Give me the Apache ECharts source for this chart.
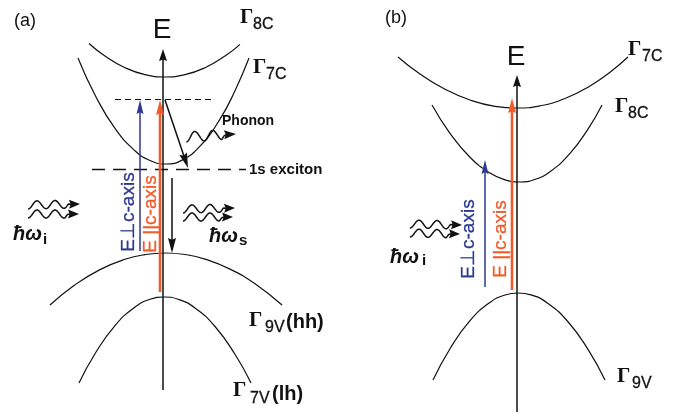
<!DOCTYPE html>
<html><head><meta charset="utf-8">
<script src="https://cdn.jsdelivr.net/npm/echarts@6/dist/echarts.min.js"></script>
<style>html,body{margin:0;padding:0;background:#fff}#c{width:675px;height:416px}</style>
</head><body><div id="c"></div><script>
// ---- data (diagram coordinates: x = k across page, y = energy, top = 0) ----
// panel (a) bands
const bandA_G8C = [[89,43.5],[105,56.1],[125,67.7],[145,74.7],[165,77],[185,74.7],[205,67.7],[225,56.1],[240,44.4]];
const bandA_G7C = [[78,58],[95,95],[115,128.4],[135,150.8],[150,160.5],[166,164],[182,160.1],[200,146.2],[220,119.1],[235,90.7],[249,58]];
const bandA_G9V = [[50,305],[75,284.8],[100,269.6],[125,259.3],[145,254.6],[165,253],[185,254.5],[205,259.1],[230,269.1],[255,283.8],[282,305]];
const bandA_G7V = [[79,383],[95,353.7],[115,325.6],[135,307],[150,299.3],[164,297],[178,299.2],[195,307.9],[215,326.5],[235,354.3],[251,383]];
// panel (b) bands
const bandB_G7C = [[398,57],[420,74.1],[445,89.3],[470,100],[495,106.3],[517,108],[540,105.8],[565,98.5],[590,85.9],[610,72.2],[628,57]];
const bandB_G8C = [[432,105],[450,133.3],[470,157.2],[490,173.1],[505,179.8],[520,182],[535,179.4],[550,171.7],[570,153.4],[588,129.1],[602,105]];
const bandB_G9V = [[433,380],[450,348.7],[470,320.7],[490,302.4],[505,295],[518,293],[531,294.9],[548,303.4],[568,321.75],[588,349.4],[605,380]];
// dashed levels (a)
const levelVirtual = [[115,99.5],[213,99.5]];
const levelExciton = [[92,169.5],[246,169.5]];
// arrows [x0,y0,x1(tip),y1(tip)]
const axisArrows = [[163,390,163,49],[517,412,517,75]];
const blackArrows = [[165,100,188,168],[172,178,172,253]];
const blueArrows = [[140,251,140,100],[485,287,485,160]];
const orangeArrows = [[160,292,160,100],[512,290,512,98]];
// photon / phonon waves [x0,y0,x1(tip),y1(tip)]
const photonWaves = [[28,205,80,204],[28,214,79,214],[183,209,235,208],[183,217,233,217],[410,224,462,225],[410,233,460,234]];
const phononWaves = [[186,137,236,134]];
// labels [text, x, y]
const panelLabels = [['(a)',14,21],['(b)',385,18]];
const axisLabels = [['E',162,30],['E',516,57]];
const gammaLabels = [['Γ',240,18],['Γ',253,68],['Γ',249,321],['Γ',233,391],['Γ',628,50],['Γ',615,107],['Γ',617,377]];
const subLabels = [['8C',253,25],['7C',266,75],['9V',265,328],['7V',250,399],['7C',642,57],['8C',628,114],['9V',632,384]];
const tagLabels = [['(hh)',286,322],['(lh)',272,394]];
const phononLabels = [['Phonon',222,121]];
const excitonLabels = [['1s exciton',249,170]];
const hwLabels = [['ħω',13,234],['ħω',209,236],['ħω',390,257]];
const hwSubLabels = [['i',43,240],['s',239,241],['i',422,261]];
const blueTexts = [['E⊥c-axis',129,212],['E⊥c-axis',469,239]];
const orangeTexts = [['E ||c-axis',151,214],['E ||c-axis',501,239]];

// ---- styles ----
const INK = '#111111', BLUE = '#2b3990', ORANGE = '#f15a29';
const SANS = '"Liberation Sans", Arial, sans-serif';
const SERIF = '"Liberation Serif", "Times New Roman", serif';

function band(data) {
  return { type: 'line', data: data, smooth: 0.5, showSymbol: false, silent: true,
    lineStyle: { color: INK, width: 1.2 }, z: 2 };
}
function dashed(data, dash, w) {
  return { type: 'line', data: data, showSymbol: false, silent: true,
    lineStyle: { color: INK, width: w, type: dash }, z: 2 };
}
function arrowSeries(data, color, lw, headW, headL) {
  return { type: 'custom', data: data, silent: true, z: 5,
    dimensions: ['x0','y0','x1','y1'], encode: { x: [0,2], y: [1,3] },
    renderItem: function (params, api) {
      const p0 = api.coord([api.value(0), api.value(1)]);
      const p1 = api.coord([api.value(2), api.value(3)]);
      const dx = p1[0]-p0[0], dy = p1[1]-p0[1], len = Math.hypot(dx, dy);
      const ux = dx/len, uy = dy/len, nx = -uy, ny = ux;
      const bx = p1[0]-ux*headL, by = p1[1]-uy*headL;
      return { type: 'group', children: [
        { type: 'line', shape: { x1: p0[0], y1: p0[1], x2: bx+ux*2, y2: by+uy*2 },
          style: { stroke: color, lineWidth: lw } },
        { type: 'polygon', shape: { points: [[p1[0],p1[1]],[bx+nx*headW/2, by+ny*headW/2],
            [bx+ux*headL*0.12, by+uy*headL*0.12],[bx-nx*headW/2, by-ny*headW/2]] },
          style: { fill: color } }
      ]};
    } };
}
function waveSeries(data, amp, period, headW, headL) {
  return { type: 'custom', data: data, silent: true, z: 5,
    dimensions: ['x0','y0','x1','y1'], encode: { x: [0,2], y: [1,3] },
    renderItem: function (params, api) {
      const p0 = api.coord([api.value(0), api.value(1)]);
      const p1 = api.coord([api.value(2), api.value(3)]);
      const dx = p1[0]-p0[0], dy = p1[1]-p0[1], len = Math.hypot(dx, dy);
      const ux = dx/len, uy = dy/len, nx = -uy, ny = ux;
      const wl = len - headL;
      const pts = [];
      for (let t = 0; t <= wl; t += 0.5) {
        const o = amp * Math.cos(2*Math.PI*t/period) * Math.max(0, Math.min(1, (wl - t)/4 + 0.3));
        pts.push([p0[0]+ux*t+nx*o, p0[1]+uy*t+ny*o]);
      }
      const bx = p1[0]-ux*headL, by = p1[1]-uy*headL;
      pts.push([bx+ux*2, by+uy*2]);
      return { type: 'group', children: [
        { type: 'polyline', shape: { points: pts }, style: { stroke: INK, lineWidth: 1.5, fill: null } },
        { type: 'polygon', shape: { points: [[p1[0],p1[1]],[bx+nx*headW/2, by+ny*headW/2],
            [bx+ux*headL*0.15, by+uy*headL*0.15],[bx-nx*headW/2, by-ny*headW/2]] },
          style: { fill: INK } }
      ]};
    } };
}
// text drawn as custom-series text elements placed through the axes
function textSeries(list, opt) {
  const col = opt.color || INK;
  const rot = opt.rotate ? opt.rotate * Math.PI / 180 : 0;
  return { type: 'custom', silent: true, z: 10,
    data: list.map(function (d) { return { value: [d[1], d[2]], name: d[0] }; }),
    encode: { x: 0, y: 1 },
    renderItem: function (params, api) {
      const p = api.coord([api.value(0), api.value(1)]);
      const name = list[params.dataIndex][0];
      return { type: 'text', x: p[0], y: p[1], rotation: rot,
        style: { text: name, fill: col, fontSize: opt.fontSize,
          fontFamily: opt.fontFamily || SANS, fontWeight: opt.fontWeight || 'normal',
          fontStyle: opt.fontStyle || 'normal',
          align: opt.align || 'left', verticalAlign: 'middle',
          stroke: col, lineWidth: opt.stroke || 0 } };
    } };
}

const chart = echarts.init(document.getElementById('c'), null, { renderer: 'canvas' });
chart.setOption({
  animation: false,
  backgroundColor: '#ffffff',
  grid: { left: 0, right: 0, top: 0, bottom: 0 },
  xAxis: { type: 'value', min: 0, max: 675, show: false },
  yAxis: { type: 'value', min: 0, max: 416, inverse: true, show: false },
  series: [
    band(bandA_G8C), band(bandA_G7C), band(bandA_G9V), band(bandA_G7V),
    band(bandB_G7C), band(bandB_G8C), band(bandB_G9V),
    dashed(levelVirtual, [6,4], 1), dashed(levelExciton, [13,8], 1.3),
    arrowSeries(axisArrows, INK, 1.5, 8, 12),
    arrowSeries(blackArrows, INK, 1.5, 8, 15),
    arrowSeries(blueArrows, BLUE, 1.5, 7, 14),
    arrowSeries(orangeArrows, ORANGE, 2.6, 8, 15),
    waveSeries(photonWaves, 4, 18, 9, 11),
    waveSeries(phononWaves, 5, 18, 9, 12),
    textSeries(panelLabels, { fontSize: 18 }),
    textSeries(axisLabels, { fontSize: 28, align: 'center' }),
    textSeries(gammaLabels, { fontSize: 21, fontFamily: SERIF, fontWeight: 'bold' }),
    textSeries(subLabels, { fontSize: 16, stroke: 0.3 }),
    textSeries(tagLabels, { fontSize: 20, fontWeight: 'bold' }),
    textSeries(phononLabels, { fontSize: 14, fontWeight: 'bold' }),
    textSeries(excitonLabels, { fontSize: 15, fontWeight: 'bold' }),
    textSeries(hwLabels, { fontSize: 20, fontWeight: 'bold', fontStyle: 'italic' }),
    textSeries(hwSubLabels, { fontSize: 15, fontWeight: 'bold' }),
    textSeries(blueTexts, { fontSize: 19, color: BLUE, rotate: 90, align: 'center', stroke: 0.3 }),
    textSeries(orangeTexts, { fontSize: 19, color: ORANGE, rotate: 90, align: 'center', stroke: 0.3 })
  ]
});
</script></body></html>
